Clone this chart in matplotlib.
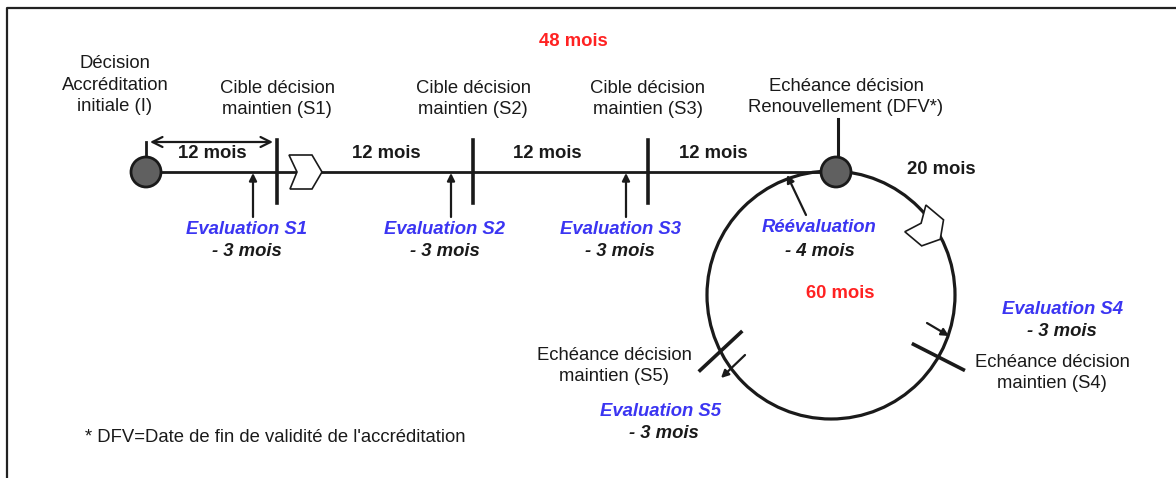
import numpy as np
import matplotlib.pyplot as plt
from matplotlib.patches import Circle, Polygon

plt.rcParams['font.family'] = ['Liberation Sans', 'DejaVu Sans']

# --- contenu du schema ---
total_line = '48 mois'
total_cycle = '60 mois'
start_label = 'Décision\nAccréditation\ninitiale (I)'
renew_label = 'Echéance décision\nRenouvellement (DFV*)'
durations = ['12 mois', '12 mois', '12 mois', '12 mois']
cibles = ['Cible décision\nmaintien (S1)', 'Cible décision\nmaintien (S2)', 'Cible décision\nmaintien (S3)']
evals = ['Evaluation S1', 'Evaluation S2', 'Evaluation S3']
evals_delay = ['- 3 mois', '- 3 mois', '- 3 mois']
cycle_first = '20 mois'
reeval = 'Réévaluation'
reeval_delay = '- 4 mois'
echeances = ['Echéance décision\nmaintien (S4)', 'Echéance décision\nmaintien (S5)']
evals_cycle = ['Evaluation S4', 'Evaluation S5']
evals_cycle_delay = ['- 3 mois', '- 3 mois']
footnote = "* DFV=Date de fin de validité de l'accréditation"

BLUE = '#3b35f2'
RED = '#ff2222'
INK = '#1a1a1a'
FS = 13.3
LS = 1.38

fig = plt.figure(figsize=(11.76, 4.78), dpi=100)
ax = fig.add_axes([0, 0, 1, 1])
ax.set_xlim(0, 1176)
ax.set_ylim(478, 0)
ax.axis('off')

# cadre
ax.plot([7, 7, 1176], [478, 8, 8], color='#222222', lw=1.6, solid_capstyle='butt')


def chevron(cx, cy, ang, size=1.0):
    pts = np.array([(-17, -17), (6, -17), (16, 0), (6, 17), (-16, 17), (-9, 0)]) * size
    a = np.radians(ang)
    rot = np.array([[np.cos(a), -np.sin(a)], [np.sin(a), np.cos(a)]])
    pts = pts @ rot.T + [cx, cy]
    ax.add_patch(Polygon(pts, closed=True, facecolor='white', edgecolor=INK, lw=1.2, zorder=5))


def up_arrow(x0, y0, x1, y1):
    ax.annotate('', xy=(x1, y1), xytext=(x0, y0),
                arrowprops=dict(arrowstyle='-|>', color=INK, lw=1.6, mutation_scale=11,
                                shrinkA=0, shrinkB=0), zorder=4)


y0 = 172
x_start, x_end = 146, 836
ticks_x = [277, 473, 648]
eval_x = [253, 451, 626]
dur_x = [212, 386, 547, 713]

# ligne principale
ax.plot([x_start, x_end], [y0, y0], color=INK, lw=2.0, zorder=2)

# noeud de depart
ax.plot([x_start, x_start], [y0, 142], color=INK, lw=2.0, zorder=2)
ax.add_patch(Circle((x_start, y0), 15, facecolor='#606060', edgecolor=INK, lw=2.0, zorder=6))
ax.annotate('', xy=(273, 142), xytext=(150, 142),
            arrowprops=dict(arrowstyle='<->', color=INK, lw=1.6, mutation_scale=18,
                            shrinkA=0, shrinkB=0))
ax.text(115, 85, start_label, ha='center', va='center', fontsize=FS, color=INK, linespacing=LS)

# jalons S1..S3
for i in range(3):
    ax.plot([ticks_x[i], ticks_x[i]], [140, 203], color=INK, lw=2.6, zorder=3)
    ax.text(ticks_x[i], 99, cibles[i], ha='center', va='center', fontsize=FS, color=INK, linespacing=LS)
    up_arrow(eval_x[i], 217, eval_x[i], y0 + 1)
    ax.text(eval_x[i] - 6, 229, evals[i], ha='center', va='center', fontsize=FS,
            color=BLUE, fontweight='bold', style='italic')
    ax.text(eval_x[i] - 6, 251, evals_delay[i], ha='center', va='center', fontsize=FS,
            color=INK, fontweight='bold', style='italic')

for i in range(4):
    ax.text(dur_x[i], 154, durations[i], ha='center', va='center', fontsize=FS, color=INK, fontweight='bold')

chevron(306, y0, 0)

ax.text(573, 41, total_line, ha='center', va='center', fontsize=FS, color=RED, fontweight='bold')

# cycle de renouvellement
cx, cy, r = 831, 295, 124
ax.add_patch(Circle((cx, cy), r, fill=False, edgecolor=INK, lw=2.3, zorder=2))
ax.plot([838, 838], [119, y0], color=INK, lw=2.2, zorder=2)
ax.add_patch(Circle((x_end, y0), 15, facecolor='#606060', edgecolor=INK, lw=2.0, zorder=6))
ax.text(846, 97, renew_label, ha='center', va='center', fontsize=FS, color=INK, linespacing=LS)
ax.text(941, 169, cycle_first, ha='center', va='center', fontsize=FS, color=INK, fontweight='bold')
chevron(928, 229, 40)

up_arrow(806, 215, 787, 175)
ax.text(819, 227, reeval, ha='center', va='center', fontsize=FS, color=BLUE,
        fontweight='bold', style='italic')
ax.text(820, 251, reeval_delay, ha='center', va='center', fontsize=FS, color=INK,
        fontweight='bold', style='italic')
ax.text(840, 293, total_cycle, ha='center', va='center', fontsize=FS, color=RED, fontweight='bold')

# echeances S4 / S5 sur le cercle (position sur le cercle, inclinaison du trait)
for pos, tilt in [(30, 27), (153, 137)]:
    p = np.radians(pos)
    t = np.radians(tilt)
    px, py = cx + r * np.cos(p), cy + r * np.sin(p)
    ax.plot([px - 28 * np.cos(t), px + 28 * np.cos(t)],
            [py - 28 * np.sin(t), py + 28 * np.sin(t)], color=INK, lw=2.6, zorder=3)

up_arrow(927, 323, 949, 336)
up_arrow(745, 355, 721, 378)

ax.text(1052, 373, echeances[0], ha='center', va='center', fontsize=FS, color=INK, linespacing=LS)
ax.text(614, 366, echeances[1], ha='center', va='center', fontsize=FS, color=INK, linespacing=LS)
ax.text(1062, 310, evals_cycle[0], ha='center', va='center', fontsize=FS, color=BLUE,
        fontweight='bold', style='italic')
ax.text(1062, 331, evals_cycle_delay[0], ha='center', va='center', fontsize=FS, color=INK,
        fontweight='bold', style='italic')
ax.text(660, 411, evals_cycle[1], ha='center', va='center', fontsize=FS, color=BLUE,
        fontweight='bold', style='italic')
ax.text(664, 433, evals_cycle_delay[1], ha='center', va='center', fontsize=FS, color=INK,
        fontweight='bold', style='italic')

ax.text(85, 438, footnote, ha='left', va='center', fontsize=FS, color=INK)

plt.savefig('out.png', dpi=100)
